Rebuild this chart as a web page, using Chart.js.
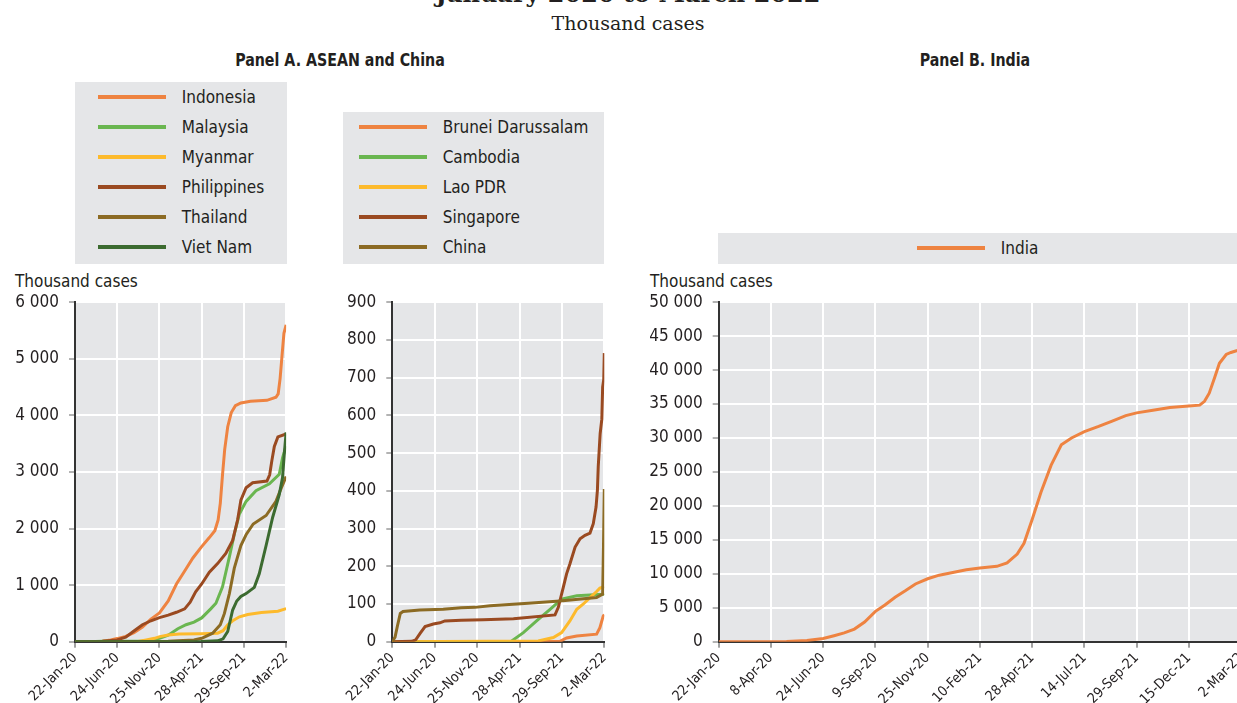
<!DOCTYPE html>
<html>
<head>
<meta charset="utf-8">
<script src="https://cdn.jsdelivr.net/npm/chart.js@4.4.0/dist/chart.umd.min.js"></script>
<style>
html, body { margin: 0; padding: 0; width: 1237px; height: 703px; overflow: hidden; background: #fff; }
body { position: relative; color: #231f20; font-family: 'Liberation Sans Narrow', 'Arial Narrow', 'DejaVu Sans Condensed', sans-serif; }
.abs { position: absolute; white-space: nowrap; }
#title { left: 0; width: 1256px; top: -18px; text-align: center; font: bold 24px 'DejaVu Serif', serif; line-height: 24px; }
#subtitle { left: 0; width: 1256px; top: 12px; text-align: center; font: 19px 'DejaVu Serif', serif; line-height: 22px; }
.panel { font-weight: bold; font-size: 17px; line-height: 20px; text-align: center; top: 50px; transform: scaleX(0.93); }
.ytitle { font-size: 17px; line-height: 20px; top: 271px; }
.legend { background: #e5e6e8; display: flex; justify-content: center; }
.legend .row { height: 30px; display: flex; align-items: center; font-size: 17px; }
.legend .swatch { width: 68px; height: 4px; margin-right: 16px; }
canvas { position: absolute; }
</style>
</head>
<body>
<div id="title" class="abs">January 2020 to March 2022</div>
<div id="subtitle" class="abs">Thousand cases</div>
<div class="abs panel" style="left:140px;width:400px;">Panel A. ASEAN and China</div>
<div class="abs panel" style="left:775px;width:400px;">Panel B. India</div>
<div class="abs ytitle" style="left:15px;">Thousand cases</div>
<div class="abs ytitle" style="left:650px;">Thousand cases</div>
<div id="legend1" class="abs legend" style="left:75px;top:82px;width:212px;height:182px;"></div>
<div id="legend2" class="abs legend" style="left:343px;top:112px;width:261px;height:152px;"></div>
<div id="legend3" class="abs legend" style="left:718px;top:233px;width:519px;height:31px;"></div>
<canvas id="chart1" style="left:0;top:282px;" width="300" height="421"></canvas>
<canvas id="chart2" style="left:310px;top:282px;" width="310" height="421"></canvas>
<canvas id="chart3" style="left:640px;top:282px;" width="615" height="421"></canvas>
<script>
// x values are days since 22-Jan-20, y values are thousand cases

const ticksA = [0, 154, 308, 462, 616, 770]
const tickLabelsA = ['22-Jan-20', '24-Jun-20', '25-Nov-20', '28-Apr-21', '29-Sep-21', '2-Mar-22']
const ticksB = [0, 77, 154, 231, 308, 385, 462, 539, 616, 693, 770]
const tickLabelsB = ['22-Jan-20', '8-Apr-20', '24-Jun-20', '9-Sep-20', '25-Nov-20', '10-Feb-21',
  '28-Apr-21', '14-Jul-21', '29-Sep-21', '15-Dec-21', '2-Mar-22']

// Panel A, left chart
const indonesiaDays = [0, 40, 70, 100, 130, 154, 185, 215, 246, 277, 308, 340, 370, 400, 430, 462, 490, 510, 522, 530, 538, 546, 557, 570, 585, 605, 640, 700, 733, 741, 748, 755, 762, 770]
const indonesia = [0, 0, 2, 10, 30, 55, 95, 160, 260, 400, 510, 720, 1020, 1250, 1480, 1680, 1840, 1960, 2150, 2450, 2950, 3400, 3800, 4050, 4170, 4220, 4250, 4265, 4320, 4380, 4650, 5050, 5450, 5600]
const malaysiaDays = [0, 50, 100, 154, 246, 290, 308, 340, 375, 405, 434, 462, 495, 514, 538, 563, 581, 599, 624, 660, 709, 745, 757, 770]
const malaysia = [0, 0, 6, 9, 11, 35, 60, 115, 230, 300, 345, 420, 580, 680, 970, 1500, 1900, 2250, 2480, 2670, 2790, 2960, 3250, 3460]
const myanmarDays = [0, 70, 230, 260, 290, 309, 340, 380, 460, 520, 540, 557, 575, 600, 630, 680, 740, 770]
const myanmar = [0, 0, 2, 30, 60, 90, 118, 138, 142, 150, 195, 300, 370, 440, 480, 515, 540, 585]
const philippinesDays = [0, 50, 100, 154, 185, 215, 246, 277, 308, 340, 370, 400, 420, 440, 462, 490, 520, 550, 575, 593, 605, 624, 648, 700, 710, 718, 727, 740, 770]
const philippines = [0, 0, 9, 32, 80, 190, 300, 370, 425, 470, 520, 580, 700, 880, 1020, 1230, 1380, 1560, 1790, 2150, 2500, 2720, 2810, 2840, 2950, 3200, 3450, 3620, 3670]
const thailandDays = [0, 340, 375, 434, 462, 502, 530, 545, 563, 581, 605, 625, 650, 697, 733, 751, 770]
const thailand = [0, 7, 19, 29, 60, 150, 300, 500, 850, 1300, 1700, 1900, 2080, 2230, 2480, 2700, 2920]
const vietnamDays = [0, 460, 520, 540, 557, 575, 590, 605, 624, 654, 672, 697, 721, 745, 757, 763, 770]
const vietnam = [0, 3, 15, 50, 180, 560, 720, 800, 850, 960, 1200, 1700, 2200, 2600, 2900, 3300, 3700]

// Panel A, right chart
const bruneiDays = [0, 609, 633, 670, 742, 754, 766, 770]
const brunei = [0, 1, 10, 15, 20, 37, 68, 72]
const cambodiaDays = [0, 430, 476, 524, 573, 615, 670, 766, 770]
const cambodia = [0, 0, 24, 55, 86, 113, 122, 126, 128]
const laoDays = [0, 530, 585, 615, 645, 670, 694, 718, 742, 754, 770]
const lao = [0, 2, 11, 24, 55, 86, 100, 117, 133, 142, 146]
const singaporeDays = [0, 70, 85, 101, 119, 149, 173, 191, 250, 330, 440, 591, 603, 621, 633, 645, 664, 682, 700, 718, 730, 740, 745, 748, 755, 761, 764, 768, 770]
const singapore = [0, 1, 5, 22, 40, 47, 50, 55, 57, 58, 61, 71, 91, 144, 180, 206, 251, 273, 282, 288, 313, 357, 402, 464, 552, 590, 675, 695, 765]
const chinaDays = [0, 10, 19, 29, 39, 100, 185, 250, 300, 355, 494, 609, 742, 764, 767, 770]
const china = [0.6, 12, 43, 75, 80, 84, 86, 90, 91, 95, 102, 108, 117, 126, 250, 405]

// Panel B
const indiaDays = [0, 9, 40, 70, 100, 130, 154, 170, 185, 200, 215, 231, 245, 260, 275, 290, 308, 325, 345, 365, 385, 410, 425, 440, 450, 462, 475, 490, 505, 520, 539, 560, 580, 600, 616, 640, 665, 693, 709, 716, 723, 731, 738, 748, 755, 763, 770]
const india = [0, 0, 0, 2, 31, 190, 473, 880, 1290, 1860, 2900, 4470, 5400, 6550, 7500, 8500, 9270, 9800, 10200, 10600, 10870, 11100, 11600, 12900, 14500, 17990, 22000, 26000, 29000, 30000, 30950, 31700, 32500, 33300, 33700, 34100, 34500, 34710, 34840, 35400, 36600, 38900, 41000, 42300, 42600, 42850, 42930]

const ORANGE = '#ee8341', GREEN = '#6ab650', YELLOW = '#fdba2c'
const BROWN = '#9a4a21', OLIVE = '#8c6b24', DKGREEN = '#3c6b30'

const FONT = "'Liberation Sans Narrow', 'Arial Narrow', 'DejaVu Sans Condensed', sans-serif"

function series(label, days, vals, color) {
  return { label, data: days.map((d, i) => ({ x: d, y: vals[i] })), color }
}

const groupA1 = [
  series('Indonesia', indonesiaDays, indonesia, ORANGE),
  series('Malaysia', malaysiaDays, malaysia, GREEN),
  series('Myanmar', myanmarDays, myanmar, YELLOW),
  series('Philippines', philippinesDays, philippines, BROWN),
  series('Thailand', thailandDays, thailand, OLIVE),
  series('Viet Nam', vietnamDays, vietnam, DKGREEN),
]
const groupA2 = [
  series('Brunei Darussalam', bruneiDays, brunei, ORANGE),
  series('Cambodia', cambodiaDays, cambodia, GREEN),
  series('Lao PDR', laoDays, lao, YELLOW),
  series('Singapore', singaporeDays, singapore, BROWN),
  series('China', chinaDays, china, OLIVE),
]
const groupB = [series('India', indiaDays, india, ORANGE)]

function fmt(n) {
  return n.toString().replace(/\B(?=(\d{3})+(?!\d))/g, ' ')
}

// gray plot background
const plotBg = {
  id: 'plotBg',
  beforeDraw(chart) {
    const { ctx, chartArea: a } = chart
    ctx.save()
    ctx.fillStyle = '#e5e6e8'
    ctx.fillRect(a.left, a.top, a.right - a.left, a.bottom - a.top)
    ctx.restore()
  }
}

function buildLegend(id, group) {
  const box = document.getElementById(id)
  const inner = document.createElement('div')
  group.forEach(s => {
    const row = document.createElement('div')
    row.className = 'row'
    const sw = document.createElement('span')
    sw.className = 'swatch'
    sw.style.background = s.color
    row.appendChild(sw)
    row.appendChild(document.createTextNode(s.label))
    inner.appendChild(row)
  })
  box.appendChild(inner)
}

function makeChart(id, group, yMax, yStep, tickDays, tickLabels, yWidth, padRight) {
  const ctx = document.getElementById(id).getContext('2d')
  const n = group.length
  return new Chart(ctx, {
    type: 'line',
    data: {
      datasets: group.map((s, i) => ({
        label: s.label,
        data: s.data,
        borderColor: s.color,
        backgroundColor: s.color,
        borderWidth: 3,
        pointRadius: 0,
        tension: 0,
        fill: false,
        order: n - i,
      }))
    },
    options: {
      responsive: false,
      animation: false,
      layout: { padding: { top: 0, right: padRight, left: 0, bottom: 0 } },
      plugins: { legend: { display: false }, tooltip: { enabled: false } },
      scales: {
        x: {
          type: 'linear',
          min: 0,
          max: 770,
          afterBuildTicks: s => { s.ticks = tickDays.map(v => ({ value: v })) },
          afterFit: s => { s.height = 61.3 },
          grid: { color: '#fff', lineWidth: 2, tickColor: '#444', tickLength: 6, tickWidth: 1 },
          border: { color: '#333', width: 2 },
          ticks: {
            autoSkip: false,
            minRotation: 45,
            maxRotation: 45,
            padding: 2,
            color: '#231f20',
            font: { family: FONT, size: 14 },
            callback: v => tickLabels[tickDays.indexOf(v)]
          }
        },
        y: {
          min: 0,
          max: yMax,
          afterFit: s => { s.width = yWidth },
          grid: { color: '#fff', lineWidth: 2, tickColor: '#666', tickLength: 6, tickWidth: 1 },
          border: { color: '#333', width: 2 },
          ticks: {
            stepSize: yStep,
            padding: 10,
            color: '#231f20',
            font: { family: FONT, size: 17 },
            callback: v => fmt(v)
          }
        }
      }
    },
    plugins: [plotBg]
  })
}

buildLegend('legend1', groupA1)
buildLegend('legend2', groupA2)
buildLegend('legend3', groupB)

makeChart('chart1', groupA1, 6000, 1000, ticksA, tickLabelsA, 75, 13)
makeChart('chart2', groupA2, 900, 100, ticksA, tickLabelsA, 82.3, 15.7)
makeChart('chart3', groupB, 50000, 5000, ticksB, tickLabelsB, 78.7, 13.3)
</script>
</body>
</html>
